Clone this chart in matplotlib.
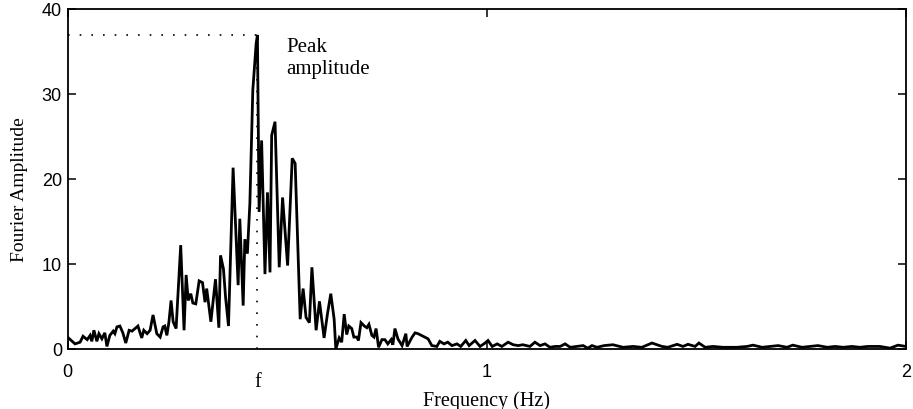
import matplotlib
matplotlib.use("Agg")
import matplotlib.pyplot as plt
import numpy as np

# values
freq = [0.000, 0.018, 0.030, 0.037, 0.047, 0.054, 0.058, 0.063, 0.070, 0.075,
        0.082, 0.089, 0.094, 0.101, 0.109, 0.113, 0.118, 0.125, 0.132, 0.139,
        0.147, 0.154, 0.161, 0.168, 0.177, 0.182, 0.190, 0.197, 0.204, 0.213,
        0.221, 0.228, 0.232, 0.237, 0.242, 0.247, 0.252, 0.259, 0.270, 0.278,
        0.283, 0.288, 0.294, 0.299, 0.306, 0.314, 0.322, 0.328, 0.332, 0.342,
        0.353, 0.361, 0.365, 0.372, 0.377, 0.384, 0.395, 0.407, 0.411, 0.419,
        0.423, 0.429, 0.435, 0.442, 0.450, 0.453, 0.457, 0.463, 0.471, 0.477,
        0.483, 0.487, 0.495, 0.505, 0.513, 0.525, 0.536, 0.543, 0.555, 0.562,
        0.569, 0.577, 0.583, 0.593, 0.601, 0.612, 0.620, 0.628, 0.636, 0.640,
        0.648, 0.654, 0.660, 0.666, 0.671, 0.678, 0.683, 0.690, 0.694, 0.700,
        0.708, 0.714, 0.719, 0.726, 0.731, 0.736, 0.742, 0.750, 0.757, 0.764,
        0.772, 0.776, 0.781, 0.788, 0.798, 0.807, 0.810, 0.822, 0.829, 0.836,
        0.848, 0.860, 0.869, 0.881, 0.888, 0.898, 0.907, 0.917, 0.929, 0.938,
        0.950, 0.958, 0.972, 0.984, 0.996, 1.003, 1.013, 1.025, 1.036, 1.051,
        1.063, 1.075, 1.086, 1.103, 1.115, 1.127, 1.139, 1.151, 1.163, 1.175,
        1.187, 1.199, 1.215, 1.230, 1.241, 1.251, 1.263, 1.280, 1.301, 1.325,
        1.349, 1.370, 1.394, 1.418, 1.432, 1.454, 1.468, 1.480, 1.497, 1.506,
        1.521, 1.540, 1.563, 1.597, 1.621, 1.635, 1.657, 1.676, 1.695, 1.716,
        1.730, 1.752, 1.771, 1.790, 1.812, 1.831, 1.850, 1.871, 1.890, 1.909,
        1.938, 1.962, 1.981, 2.000]
amp = [1.4, 0.6, 0.8, 1.5, 1.1, 1.6, 0.9, 2.2, 0.9, 1.8,
       1.2, 1.9, 0.3, 1.6, 2.1, 1.8, 2.6, 2.7, 1.9, 0.7,
       2.2, 2.1, 2.4, 2.7, 1.3, 2.2, 1.8, 2.2, 4.0, 1.8,
       1.4, 2.6, 2.7, 1.6, 3.2, 5.7, 3.2, 2.4, 12.2, 2.2,
       8.7, 5.7, 6.5, 5.4, 5.3, 8.0, 7.8, 5.5, 7.1, 3.2,
       8.2, 2.5, 11.0, 9.4, 6.1, 2.7, 21.3, 7.5, 15.3, 5.1,
       12.9, 11.2, 17.1, 30.4, 35.9, 36.9, 16.1, 24.5, 8.8, 18.4,
       9.0, 25.1, 26.7, 9.6, 17.8, 9.8, 22.4, 21.8, 3.5, 7.1,
       3.7, 3.1, 9.6, 2.2, 5.6, 1.3, 4.1, 6.5, 3.5, 0.0,
       1.3, 0.8, 4.1, 1.7, 2.7, 2.4, 1.4, 1.4, 1.0, 3.1,
       2.7, 2.5, 2.9, 1.6, 1.4, 2.4, 0.2, 1.1, 1.1, 0.6,
       1.1, 0.5, 2.4, 1.2, 0.4, 1.8, 0.3, 1.4, 1.9, 1.8,
       1.5, 1.2, 0.4, 0.3, 0.9, 0.6, 0.8, 0.4, 0.6, 0.3,
       1.0, 0.4, 1.0, 0.3, 0.7, 1.0, 0.3, 0.6, 0.3, 0.8,
       0.5, 0.4, 0.5, 0.3, 0.8, 0.4, 0.6, 0.2, 0.3, 0.3,
       0.6, 0.2, 0.3, 0.4, 0.1, 0.4, 0.2, 0.4, 0.5, 0.2,
       0.3, 0.2, 0.7, 0.3, 0.2, 0.55, 0.3, 0.55, 0.3, 0.7,
       0.2, 0.3, 0.2, 0.2, 0.3, 0.45, 0.2, 0.3, 0.4, 0.2,
       0.45, 0.2, 0.3, 0.4, 0.2, 0.3, 0.2, 0.3, 0.2, 0.3,
       0.3, 0.1, 0.45, 0.3]

peak_freq = 0.453
peak_amp = 36.9
x_ticks = [0, 1, 2]
y_ticks = [0, 10, 20, 30, 40]

serif = ['Liberation Serif', 'DejaVu Serif']
sans = ['Liberation Sans', 'DejaVu Sans']

fig = plt.figure(figsize=(9.13, 4.10), dpi=100)
ax = fig.add_axes([67.5 / 913, 60 / 410, 838.5 / 913, 340.5 / 410])

# dotted guides to the peak
ax.plot([0, peak_freq], [peak_amp, peak_amp], color='black', lw=1.2,
        linestyle=(0, (1, 6)))
ax.plot([peak_freq, peak_freq], [0, peak_amp], color='black', lw=1.2,
        linestyle=(0, (1, 6)))

ax.plot(freq, amp, color='black', lw=2.0, solid_joinstyle='miter')

ax.set_xlim(0, 2)
ax.set_ylim(0, 40)
ax.set_xticks(x_ticks)
ax.set_yticks(y_ticks)
ax.set_xticklabels([str(t) for t in x_ticks], fontfamily=sans, fontsize=13)
ax.set_yticklabels([str(t) for t in y_ticks], fontfamily=sans, fontsize=13)
ax.tick_params(direction='in', length=6, width=1.1, top=True, right=True)
ax.tick_params(axis='x', pad=10)
ax.tick_params(axis='y', pad=4)
for sp in ax.spines.values():
    sp.set_linewidth(1.3)

ax.set_xlabel('Frequency (Hz)', fontfamily=serif, fontsize=14.5)
ax.xaxis.set_label_coords(0.5, -0.12)
ax.set_ylabel('Fourier Amplitude', fontfamily=serif, fontsize=14)
ax.yaxis.set_label_coords(-0.047, 0.47)

ax.text(peak_freq, -0.095, 'f', transform=ax.get_xaxis_transform(),
        ha='center', va='center', fontfamily=serif, fontsize=14.5)
ax.text(0.521, 36.6, 'Peak\namplitude', ha='left', va='top',
        fontfamily=serif, fontsize=15, linespacing=1.2)

fig.savefig('out.png', dpi=100)
